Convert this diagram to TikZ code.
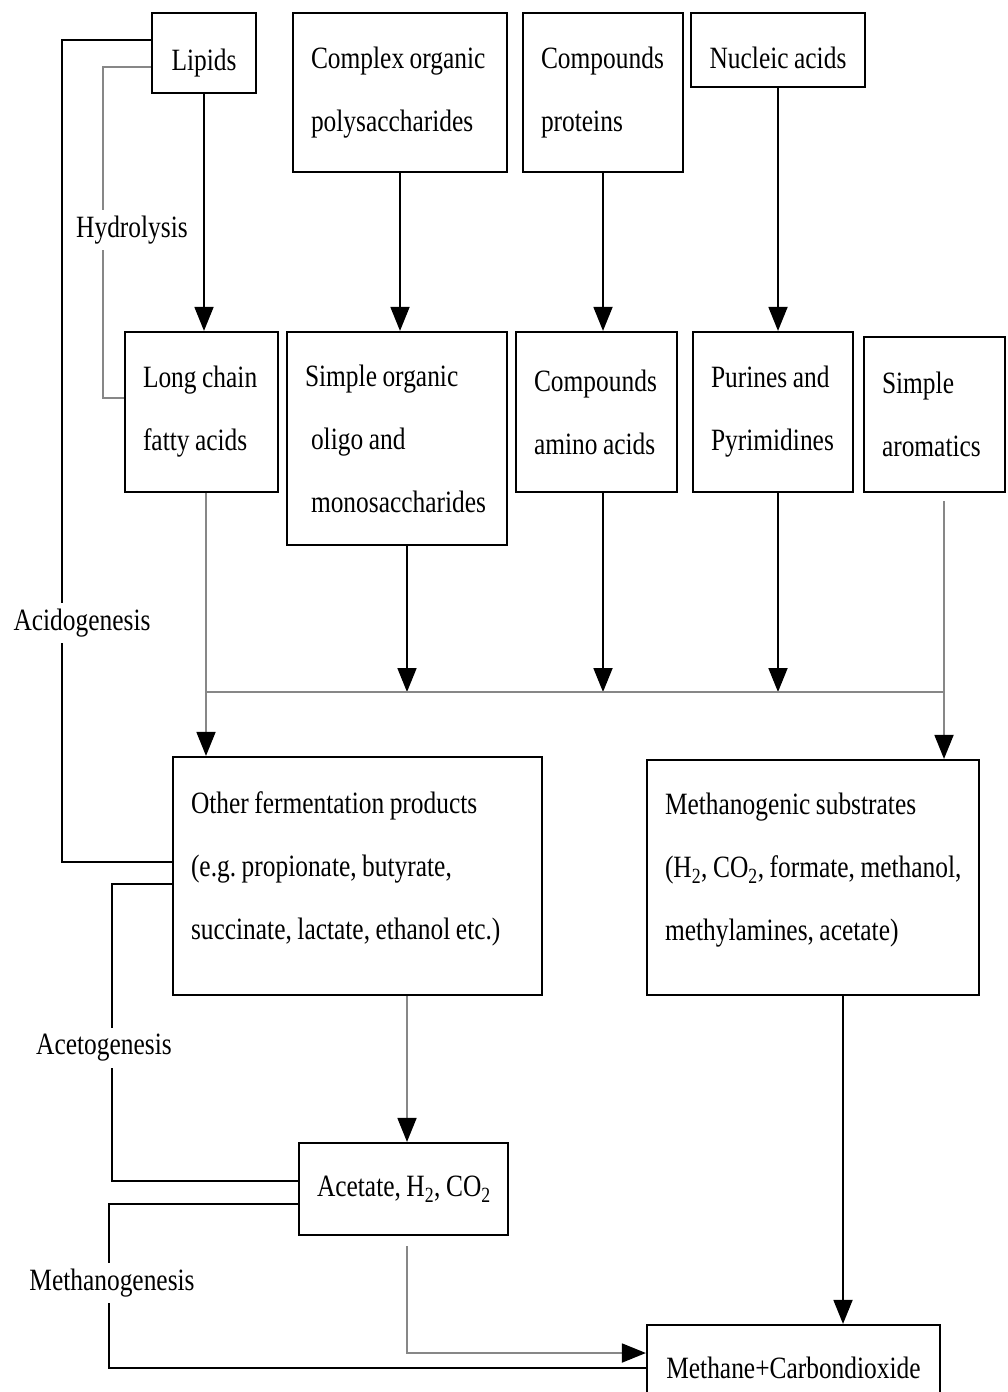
\documentclass[tikz,border=0pt]{standalone}
\usepackage{fontspec}
\setmainfont{Liberation Serif}[FakeStretch=0.82]
\usetikzlibrary{arrows.meta}
\definecolor{lgray}{RGB}{135,135,135}
\newcommand\oneline[1]{\mbox{\spaceskip=5.5pt\relax #1}}
\newcommand\boxfont{\fontsize{31}{63}\selectfont}
\newcommand\lblfont{\fontsize{31}{36}\selectfont}
\frenchspacing
\begin{document}
\begin{tikzpicture}[x=1pt,y=-1pt,
  box/.style={draw, line width=2.2pt, rectangle, inner xsep=18pt, inner ysep=0pt,
    align=left, font=\boxfont},
  cbox/.style={box, align=center},
  lbl/.style={fill=white, inner xsep=1pt, inner ysep=6pt, font=\lblfont},
  tip/.style={-{Triangle[length=24pt,width=19pt,color=black]}},
  conn/.style={line width=1.8pt, tip},
  gline/.style={line width=1.8pt, lgray},
  gconn/.style={gline, tip},
  bline/.style={line width=1.8pt}]
\useasboundingbox (0,0) rectangle (1007,1392);
% boxes
\node[cbox, minimum width=104pt, text width=68pt, minimum height=80pt, text height=34pt, text depth=0pt] (lipids) at (204,53) {Lipids};
\node[box, minimum width=214pt, text width=178pt, minimum height=159pt] (complex) at (400,92.5)
  {\oneline{Complex organic}\\\oneline{polysaccharides}};
\node[box, minimum width=160pt, text width=124pt, minimum height=159pt] (proteins) at (603,92.5)
  {\oneline{Compounds}\\\oneline{proteins}};
\node[cbox, minimum width=174pt, text width=138pt, minimum height=74pt, text height=36pt, text depth=0pt] (nucleic) at (778,50)
  {\oneline{Nucleic acids}};
\node[box, minimum width=153pt, text width=117pt, minimum height=160pt] (longchain) at (201.5,412)
  {\oneline{Long chain}\\\oneline{fatty acids}};
\node[box, minimum width=220pt, text width=184pt, minimum height=213pt] (simpleorg) at (397,438.5)
  {\oneline{Simple organic}\\\oneline{\hspace*{6pt}oligo and}\\\oneline{\hspace*{6pt}monosaccharides}};
\node[box, minimum width=161pt, text width=125pt, minimum height=160pt] (amino) at (596.5,412)
  {\oneline{Compounds}\\\oneline{amino acids}};
\node[box, minimum width=160pt, text width=124pt, minimum height=160pt] (purines) at (773,412)
  {\oneline{Purines and}\\\oneline{Pyrimidines}};
\node[box, minimum width=141pt, text width=105pt, minimum height=155pt] (aromatics) at (934.5,414.5)
  {\oneline{Simple}\\\oneline{aromatics}};
\node[box, minimum width=369pt, text width=333pt, minimum height=238pt, text depth=147pt] (other) at (357.5,876)
  {\oneline{Other fermentation products}\\\oneline{(e.g. propionate, butyrate,}\\\oneline{succinate, lactate, ethanol etc.)}};
\node[box, minimum width=332pt, text width=296pt, minimum height=235pt, text depth=147pt] (methsub) at (813,877.5)
  {\oneline{Methanogenic substrates}\\\oneline{(H\textsubscript{2}, CO\textsubscript{2}, formate, methanol,}\\\oneline{methylamines, acetate)}};
\node[cbox, minimum width=209pt, text width=173pt, minimum height=92pt] (acetate) at (403.5,1189)
  {\oneline{Acetate, H\textsubscript{2}, CO\textsubscript{2}}};
\node[cbox, minimum width=293pt, text width=257pt, minimum height=86pt] (methane) at (793.5,1368)
  {\oneline{Methane+Carbondioxide}};
% helper coordinates
\coordinate (busL) at (206,692);
\coordinate (busR) at (944,692);
\coordinate (b1) at (407,692);
\coordinate (b2) at (603,692);
\coordinate (b3) at (778,692);
\coordinate (mx) at (843,1000);
% hydrolysis arrows
\draw[conn] (lipids.south) -- (lipids.south |- longchain.north);
\draw[conn] (complex.south) -- (complex.south |- simpleorg.north);
\draw[conn] (proteins.south) -- (proteins.south |- amino.north);
\draw[conn] (nucleic.south) -- (nucleic.south |- purines.north);
% acidogenesis arrows
\draw[conn] (simpleorg.south -| b1) -- (b1);
\draw[conn] (amino.south -| b2) -- (b2);
\draw[conn] (purines.south -| b3) -- (b3);
\draw[gline] (busL) -- (busR);
\draw[gconn] (longchain.south -| busL) -- (other.north -| busL);
\draw[gconn] ([yshift=-8pt]aromatics.south -| busR) -- (methsub.north -| busR);
% lower arrows
\draw[gconn] (other.south -| b1) -- (acetate.north -| b1);
\draw[conn] (methsub.south -| mx) -- (methane.north -| mx);
\draw[gconn] ([yshift=-10pt]acetate.south -| b1) |- ([yshift=15pt]methane.west);
% stage brackets
\draw[gline] ([yshift=-14pt]lipids.west) -| ([xshift=-21pt,yshift=14pt]longchain.west) -- ([yshift=14pt]longchain.west);
\draw[bline] ([yshift=13pt]lipids.west) -| ([xshift=-110pt,yshift=14pt]other.west) -- ([yshift=14pt]other.west);
\draw[bline] ([yshift=-8pt]other.west) -| ([xshift=-186pt,yshift=8pt]acetate.west) -- ([yshift=8pt]acetate.west);
\draw[bline] ([yshift=-15pt]acetate.west) -| ([xshift=-537pt]methane.west) -- (methane.west);
% stage labels
\node[lbl] (hydro) at (132,230) {Hydrolysis};
\node[lbl] (acido) at (82,623) {Acidogenesis};
\node[lbl] (aceto) at (104,1048) {Acetogenesis};
\node[lbl] (metha) at (112,1283) {Methanogenesis};
\end{tikzpicture}
\end{document}
